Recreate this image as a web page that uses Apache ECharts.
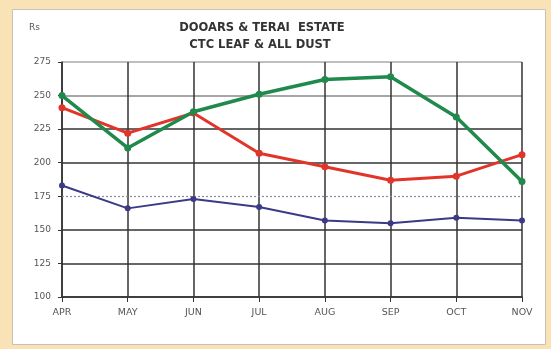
<!DOCTYPE html>
<html>
<head>
<meta charset="utf-8">
<script src="https://cdn.jsdelivr.net/npm/echarts@6/dist/echarts.min.js"></script>
<style>
  html, body { margin: 0; padding: 0; background: #f9e2b6; }
  #chart { width: 551px; height: 349px; }
</style>
</head>
<body>
<div id="chart"></div>
<script>
// Monthly auction prices (Rs/kg), Dooars & Terai estates
const months = ['APR', 'MAY', 'JUN', 'JUL', 'AUG', 'SEP', 'OCT', 'NOV'];
const greenSeries = [250, 211, 238, 251, 262, 264, 234, 186];
const redSeries = [241, 222, 237, 207, 197, 187, 190, 206];
const blueSeries = [183, 166, 173, 167, 157, 155, 159, 157];
const yTicks = { min: 100, max: 275, interval: 25 };
const dottedLevel = 175;

const chart = echarts.init(document.getElementById('chart'), null, { renderer: 'canvas' });

function lineSeries(name, data, color, width, size) {
  return {
    name: name,
    type: 'line',
    data: data,
    symbol: 'circle',
    symbolSize: size,
    itemStyle: { color: color },
    lineStyle: { color: color, width: width },
    z: 5
  };
}

chart.setOption({
  backgroundColor: '#f9e2b6',
  animation: false,
  graphic: [
    {
      type: 'rect',
      shape: { x: 12.5, y: 9.5, width: 533, height: 335 },
      style: { fill: '#ffffff', stroke: '#c9c2b4', lineWidth: 1 },
      z: -10
    },
    {
      type: 'text', x: 29, y: 23,
      style: { text: 'Rs', font: '9px "DejaVu Sans"', fill: '#555' }
    },
    {
      type: 'text', x: 262, y: 28,
      style: {
        text: 'DOOARS & TERAI  ESTATE',
        font: 'bold 11.5px "DejaVu Sans"',
        fill: '#333', align: 'center', verticalAlign: 'middle'
      }
    },
    {
      type: 'text', x: 260, y: 45,
      style: {
        text: 'CTC LEAF & ALL DUST',
        font: 'bold 11.5px "DejaVu Sans"',
        fill: '#333', align: 'center', verticalAlign: 'middle'
      }
    }
  ],
  grid: { left: 62, right: 29, top: 62, bottom: 52 },
  xAxis: {
    type: 'category',
    data: months,
    boundaryGap: false,
    axisLine: { lineStyle: { color: '#333', width: 1.5 } },
    axisTick: { show: true, length: 5, alignWithLabel: true, lineStyle: { color: '#333' } },
    axisLabel: { color: '#555', fontSize: 9.5, margin: 11, fontFamily: 'DejaVu Sans' },
    splitLine: { show: true, lineStyle: { color: '#333', width: 1.5 } }
  },
  yAxis: {
    type: 'value',
    min: yTicks.min, max: yTicks.max, interval: yTicks.interval,
    axisLine: { show: true, lineStyle: { color: '#333', width: 1.5 } },
    axisTick: { show: true, length: 4, lineStyle: { color: '#333' } },
    axisLabel: { color: '#555', fontSize: 9, margin: 11, fontFamily: 'DejaVu Sans' },
    splitLine: {
      show: true,
      lineStyle: {
        width: 1.5,
        color: ['#333', '#333', '#333', 'rgba(0,0,0,0)', '#333', '#333', '#888', '#aaa']
      }
    }
  },
  series: [
    Object.assign(lineSeries('Blue', blueSeries, '#3b3a86', 2, 6), {
      markLine: {
        silent: true,
        symbol: 'none',
        label: { show: false },
        lineStyle: { color: '#8a8aa0', type: [2, 2], width: 1.2 },
        data: [{ yAxis: dottedLevel }]
      }
    }),
    lineSeries('Red', redSeries, '#e2352a', 3, 7),
    lineSeries('Green', greenSeries, '#1f8a4c', 3.5, 7)
  ]
});
</script>
</body>
</html>
